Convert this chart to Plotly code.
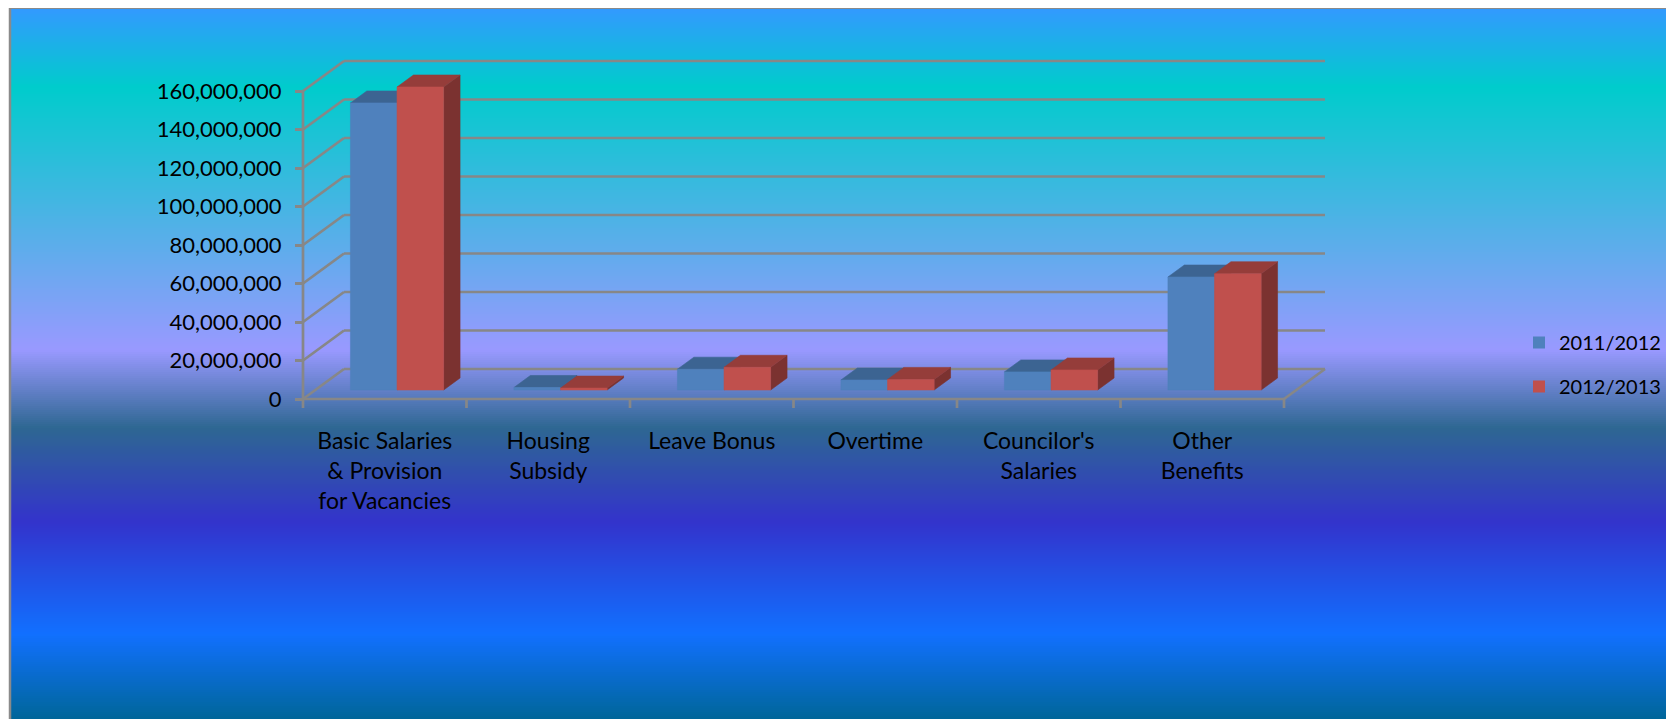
import plotly.graph_objects as go

# ---------------- data ----------------
categories = ["Basic Salaries<br>& Provision<br>for Vacancies", "Housing<br>Subsidy",
              "Leave Bonus", "Overtime", "Councilor's<br>Salaries", "Other<br>Benefits"]
series_names = ["2011/2012", "2012/2013"]
values_2011_2012 = [149_100_000, 1_300_000, 10_800_000, 5_200_000, 9_400_000, 58_700_000]
values_2012_2013 = [157_400_000, 1_000_000, 11_800_000, 5_500_000, 10_400_000, 60_400_000]
y_tick_values = [0, 20_000_000, 40_000_000, 60_000_000, 80_000_000,
                 100_000_000, 120_000_000, 140_000_000, 160_000_000]
y_tick_labels = [f"{v:,}" for v in y_tick_values]

# ---------------- style / geometry ----------------
W, H = 1674, 719
FONT = "Lato, Open Sans, sans-serif"
GRID = "#878787"
FRONT = ["#4F81BD", "#C0504D"]
TOP = ["#3C6492", "#953D3A"]
SIDE = ["#385D88", "#7B3230"]

ORIGIN_PX = (295, 391)      # front-left corner of the floor (figure px)
CAT_PX = 163.5              # pixels per category
VPP = 20_000_000 / 38.5     # value units per pixel
DEPTH_PX = (41, 30)         # oblique depth offset (right, up)
KX = DEPTH_PX[0] / CAT_PX
KY = DEPTH_PX[1] * VPP
D0, D1 = 0.3, 0.7           # bar front / back depth
BW = 0.285                  # bar width (category units)

DOM_X = (272, 1337)
DOM_Y = (37, 407)           # top, bottom in px
x_range = [-0.5 + (DOM_X[0] - ORIGIN_PX[0]) / CAT_PX, -0.5 + (DOM_X[1] - ORIGIN_PX[0]) / CAT_PX]
y_range = [(ORIGIN_PX[1] - DOM_Y[1]) * VPP, (ORIGIN_PX[1] - DOM_Y[0]) * VPP]


def P(x, v, d):
    return x + d * KX, v + d * KY


def poly_trace(polys, color):
    xs, ys = [], []
    for poly in polys:
        for (x, y) in poly + [poly[0]]:
            xs.append(x)
            ys.append(y)
        xs.append(None)
        ys.append(None)
    return go.Scatter(x=xs, y=ys, xaxis="x2", yaxis="y2", mode="lines", fill="toself",
                      fillcolor=color, line=dict(color=color, width=0.6),
                      hoverinfo="skip", showlegend=False)


fig = go.Figure()

# background gradient (style) on full-figure axes
stops_px = [(0, "#3399FF"), (79, "#00CCCC"), (342, "#9999FF"), (420, "#2E6792"),
            (514, "#3333CC"), (626, "#1170FF"), (711, "#006699")]
cs = [[p / 711, c] for p, c in stops_px]
rows = list(range(0, 714, 2))
fig.add_trace(go.Heatmap(x=[3, W], y=rows, z=[[r + 1] for r in rows[:-1]],
                         colorscale=cs, zmin=0, zmax=711, showscale=False,
                         hoverinfo="skip", xaxis="x", yaxis="y"))

# walls / gridlines
n = len(categories)
gx, gy = [], []
for v in y_tick_values:
    a = P(-0.5, v, 1)
    b = P(n - 0.5, v, 1)
    gx += [a[0], b[0], None]
    gy += [a[1], b[1], None]
    c = P(-0.5, v, 0)
    gx += [c[0], a[0], None]
    gy += [c[1], a[1], None]
gx += [-0.5, -0.5, None]
gy += [0, y_tick_values[-1], None]
gx += [-0.5, n - 0.5, None]
gy += [0, 0, None]
r = P(n - 0.5, 0, 1)
gx += [n - 0.5, r[0], None]
gy += [0, r[1], None]
for k in range(n + 1):
    gx += [k - 0.5, k - 0.5, None]
    gy += [0, -9 * VPP, None]
fig.add_trace(go.Scatter(x=gx, y=gy, xaxis="x2", yaxis="y2", mode="lines",
                         line=dict(color=GRID, width=2.7), hoverinfo="skip", showlegend=False))

# 3D bars
series = [values_2011_2012, values_2012_2013]
for s, vals in enumerate(series):
    sides, tops, fronts = [], [], []
    for i, v in enumerate(vals):
        x0 = i - BW + s * BW
        x1 = x0 + BW
        fronts.append([P(x0, 0, D0), P(x1, 0, D0), P(x1, v, D0), P(x0, v, D0)])
        tops.append([P(x0, v, D0), P(x1, v, D0), P(x1, v, D1), P(x0, v, D1)])
        sides.append([P(x1, 0, D0), P(x1, v, D0), P(x1, v, D1), P(x1, 0, D1)])
    fig.add_trace(poly_trace(sides, SIDE[s]))
    fig.add_trace(poly_trace(tops, TOP[s]))
    fig.add_trace(poly_trace(fronts, FRONT[s]))

# legend entries
for s, name in enumerate(series_names):
    fig.add_trace(go.Bar(x=[None], y=[None], name=name, marker=dict(color=FRONT[s], line=dict(width=0)),
                         xaxis="x2", yaxis="y2", legendgroup=name))

fig.update_layout(
    width=W, height=H,
    margin=dict(l=0, r=0, t=0, b=0),
    paper_bgcolor="white", plot_bgcolor="rgba(0,0,0,0)",
    font=dict(family=FONT, size=22, color="black"),
    showlegend=True,
    legend=dict(x=1511 / W, y=(H - 315) / H, xanchor="left", yanchor="top",
                bgcolor="rgba(0,0,0,0)", font=dict(family=FONT, size=20, color="black"),
                traceorder="grouped", tracegroupgap=15),
    xaxis=dict(domain=[0, 1], range=[0, W], visible=False, fixedrange=True),
    yaxis=dict(domain=[0, 1], range=[H, 0], visible=False, fixedrange=True),
    xaxis2=dict(domain=[DOM_X[0] / W, DOM_X[1] / W], range=x_range, anchor="free",
                position=(H - ORIGIN_PX[1]) / H,
                tickmode="array", tickvals=list(range(n)), ticktext=categories,
                ticks="", showgrid=False, zeroline=False, showline=False,
                ticklabelstandoff=26, tickfont=dict(family=FONT, size=23, color="black")),
    yaxis2=dict(domain=[(H - DOM_Y[1]) / H, (H - DOM_Y[0]) / H], range=y_range, anchor="free",
                position=ORIGIN_PX[0] / W,
                tickmode="array", tickvals=y_tick_values, ticktext=y_tick_labels,
                ticks="outside", ticklen=8, tickwidth=2.5, tickcolor=GRID,
                showgrid=False, zeroline=False, showline=False,
                ticklabelstandoff=9, tickfont=dict(family=FONT, size=22, color="black")),
    shapes=[
        dict(type="line", xref="x", yref="y", x0=1, x1=W, y0=0.5, y1=0.5, line=dict(color="#8A8A8A", width=1)),
        dict(type="line", xref="x", yref="y", x0=2, x1=2, y0=0, y1=H, line=dict(color="#8A8A8A", width=2.5)),
    ],
)

fig.write_html("out.html")
